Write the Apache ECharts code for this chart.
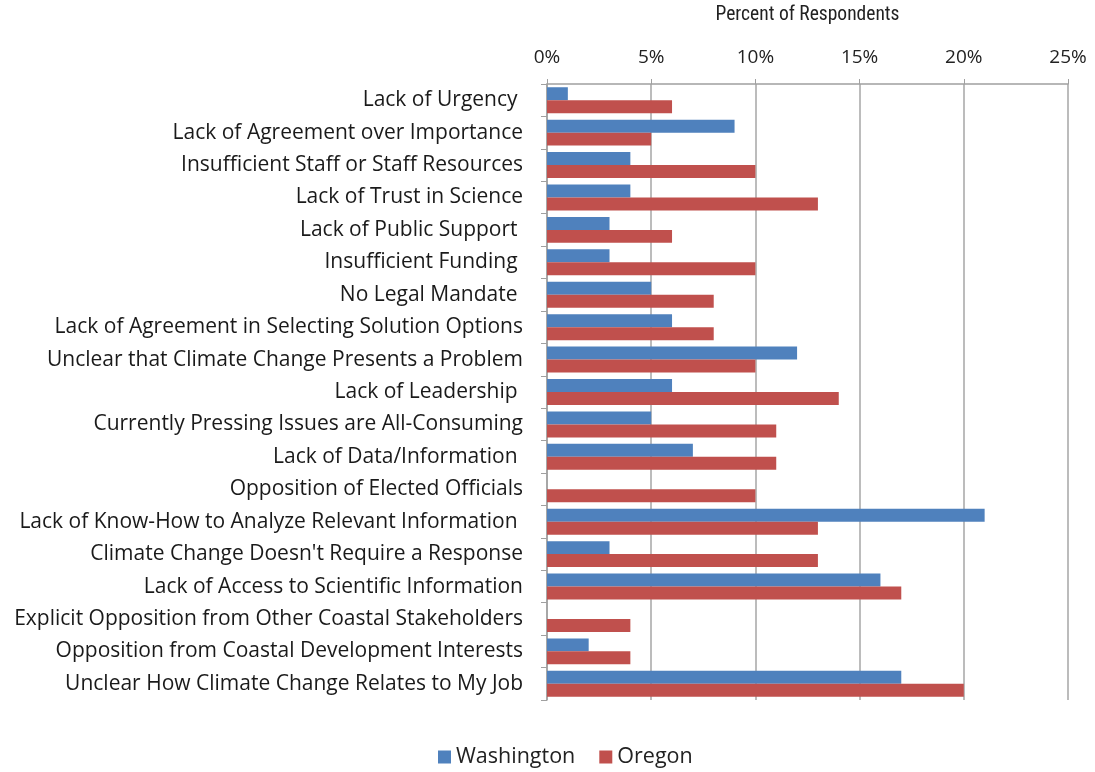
<!DOCTYPE html>
<html>
<head>
<meta charset="utf-8">
<script src="https://cdn.jsdelivr.net/npm/echarts@6/dist/echarts.min.js"></script>
<style>
  html, body { margin: 0; padding: 0; background: #fff; }
  #chart { width: 1095px; height: 772px; }
</style>
</head>
<body>
<div id="chart"></div>
<script>
// categories, top to bottom
const categories = [
  'Lack of Urgency ',
  'Lack of Agreement over Importance',
  'Insufficient Staff or Staff Resources',
  'Lack of Trust in Science',
  'Lack of Public Support ',
  'Insufficient Funding ',
  'No Legal Mandate ',
  'Lack of Agreement in Selecting Solution Options',
  'Unclear that Climate Change Presents a Problem',
  'Lack of Leadership ',
  'Currently Pressing Issues are All-Consuming',
  'Lack of Data/Information ',
  'Opposition of Elected Officials',
  'Lack of Know-How to Analyze Relevant Information ',
  "Climate Change Doesn't Require a Response",
  'Lack of Access to Scientific Information',
  'Explicit Opposition from Other Coastal Stakeholders',
  'Opposition from Coastal Development Interests',
  'Unclear How Climate Change Relates to My Job'
];
const washington = [1, 9, 4, 4, 3, 3, 5, 6, 12, 6, 5, 7, 0, 21, 3, 16, 0, 2, 17];
const oregon = [6, 5, 10, 13, 6, 10, 8, 8, 10, 14, 11, 11, 10, 13, 13, 17, 4, 4, 20];
const xTicks = [0, 5, 10, 15, 20, 25];

const chart = echarts.init(document.getElementById('chart'));
const labelFont = '"Open Sans", Lato, sans-serif';

chart.setOption({
  animation: false,
  grid: { left: 547, right: 27, top: 80, bottom: 72 },
  legend: {
    bottom: -1,
    left: 433,
    itemWidth: 13,
    itemHeight: 13,
    itemGap: 24,
    icon: 'rect',
    textStyle: { fontFamily: labelFont, fontSize: 21.5, color: '#222' },
    data: ['Washington', 'Oregon']
  },
  xAxis: {
    type: 'value',
    position: 'top',
    min: xTicks[0],
    max: xTicks[xTicks.length - 1],
    interval: 5,
    name: 'Percent of Respondents',
    nameLocation: 'middle',
    nameGap: 59,
    nameTextStyle: { fontFamily: '"Liberation Sans Narrow", "Roboto Condensed", sans-serif', fontSize: 19.5, color: '#222' },
    axisLine: { show: true, lineStyle: { color: '#a0a0a0', width: 1.5 } },
    axisTick: { show: true, length: 5, lineStyle: { color: '#a0a0a0' } },
    axisLabel: { formatter: '{value}%', fontFamily: labelFont, fontSize: 19, color: '#222', margin: 17 },
    splitLine: { show: true, lineStyle: { color: '#a6a6a6', width: 1.5 } }
  },
  yAxis: {
    type: 'category',
    inverse: true,
    data: categories,
    axisLine: { show: true, lineStyle: { color: '#a0a0a0', width: 1.5 } },
    axisTick: { show: true, length: 6, lineStyle: { color: '#a0a0a0' } },
    axisLabel: { fontFamily: labelFont, fontSize: 21, color: '#1a1a1a', margin: 24 }
  },
  series: [
    {
      name: 'Washington',
      type: 'bar',
      data: washington,
      barGap: '0%',
      barCategoryGap: '20%',
      itemStyle: { color: '#4f81bd' }
    },
    {
      name: 'Oregon',
      type: 'bar',
      data: oregon,
      itemStyle: { color: '#c0504d' }
    }
  ]
});
</script>
</body>
</html>
